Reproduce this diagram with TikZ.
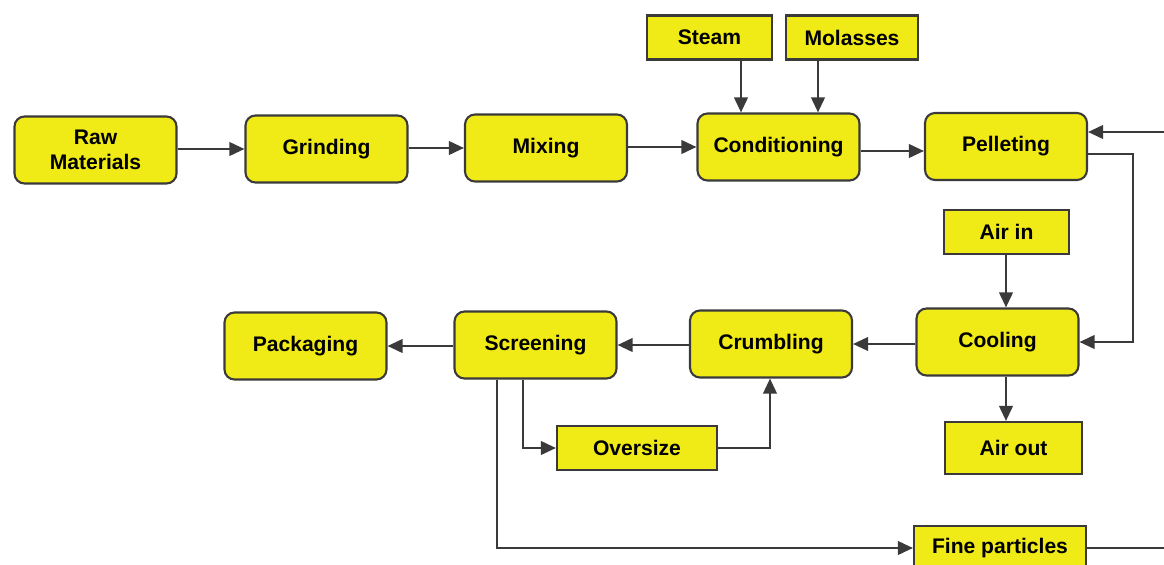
\documentclass[tikz,border=0pt]{standalone}
\usepackage{fontspec}
\setmainfont{Liberation Sans}
\usetikzlibrary{arrows.meta}
\definecolor{boxfill}{RGB}{240,234,22}
\definecolor{boxline}{RGB}{58,58,58}

\begin{document}
\begin{tikzpicture}[x=0.02cm, y=-0.02cm]
\tikzset{etape/.style={draw=boxline, fill=boxfill, line width=1.2pt, rounded corners=0.2cm,
    minimum width=3.24cm, minimum height=1.34cm, align=center, font=\bfseries\fontsize{12}{14}\selectfont},
  entree/.style={draw=boxline, fill=boxfill, line width=1.2pt, minimum height=0.88cm,
    font=\bfseries\fontsize{12}{14}\selectfont},
  fleche/.style={draw=boxline, line width=1.3pt, -{Triangle[length=0.3cm, width=0.27cm]}},
  trait/.style={draw=boxline, line width=1.3pt}}
\useasboundingbox (0,0) rectangle (1164,565);
\node[etape] (Raw) at (95.5,150) {Raw\\Materials};
\node[etape] (Grind) at (326.5,149) {Grinding};
\node[etape] (Mix) at (546,148) {Mixing};
\node[etape] (Cond) at (778.5,147) {Conditioning};
\node[etape] (Pell) at (1006,146.5) {Pelleting};
\node[entree, minimum width=2.5cm] (Steam) at (709.5,37.5) {Steam};
\node[entree, minimum width=2.64cm] (Mol) at (852,37.5) {Molasses};
\node[entree, minimum width=2.5cm] (AirIn) at (1006.5,232) {Air in};
\node[etape] (Cool) at (997.5,342) {Cooling};
\node[entree, minimum width=2.74cm, minimum height=1.04cm] (AirOut) at (1013.5,448) {Air out};
\node[etape] (Crumb) at (771,344) {Crumbling};
\node[etape] (Screen) at (535.5,345) {Screening};
\node[etape] (Pack) at (305.5,346) {Packaging};
\node[entree, minimum width=3.2cm] (Over) at (637,448) {Oversize};
\node[entree, minimum width=3.44cm] (Fine) at (1000,548) {Fine particles};
\coordinate (xs) at (741,0);
\coordinate (xm) at (818,0);
\coordinate (xa) at (1006,0);
\coordinate (xo) at (523,0);
\coordinate (xf) at (497,0);
\coordinate (xc) at (770,0);
\coordinate (Bord1) at (1164,132);
\coordinate (Bord2) at (1164,547);
\coordinate (Ret) at (1133,154);
% main line
\draw[fleche] (Raw.east |- Grind.west) -- (Grind.west);
\draw[fleche] (Grind.east |- Mix.west) -- (Mix.west);
\draw[fleche] (Mix.east |- Cond.west) -- (Cond.west);
\draw[fleche] (Cond.east |- 0,151) -- (Pell.west |- 0,151);
\draw[fleche] (Steam.south -| xs) -- (Cond.north -| xs);
\draw[fleche] (Mol.south -| xm) -- (Cond.north -| xm);
\draw[fleche] (Bord1) -- (Pell.east |- Bord1);
\draw[fleche] (Pell.east |- Ret) -- (Ret) |- (Cool.east);
\draw[fleche] (AirIn.south -| xa) -- (Cool.north -| xa);
\draw[fleche] (Cool.south -| xa) -- (AirOut.north -| xa);
% second line
\draw[fleche] (Cool.west |- Crumb.east) -- (Crumb.east);
\draw[fleche] (Crumb.west |- Screen.east) -- (Screen.east);
\draw[fleche] (Screen.west |- Pack.east) -- (Pack.east);
\draw[fleche] (Screen.south -| xo) |- (Over.west);
\draw[fleche] (Over.east) -| (Crumb.south -| xc);
\draw[fleche] (Screen.south -| xf) |- (Fine.west);
\draw[trait] (Fine.east) -- (Fine.east -| Bord2);
\end{tikzpicture}
\end{document}
